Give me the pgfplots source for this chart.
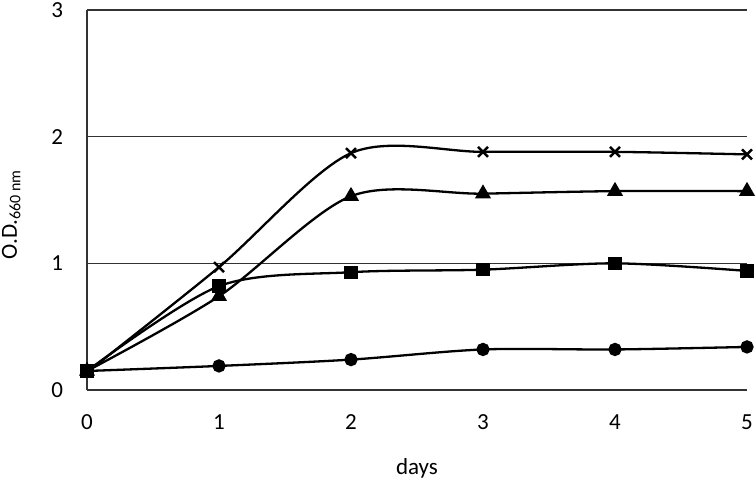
\documentclass[border=0pt]{standalone}
\usepackage{pgfplots}
\pgfplotsset{compat=1.18}
\usepackage{fontspec}
\setmainfont{Carlito}
\begin{document}
\fontsize{23}{27}\selectfont
\begin{tikzpicture}
\begin{axis}[
 at={(0,0)}, anchor=south west,
 scale only axis, width=660pt, height=380pt,
 xmin=0, xmax=5, ymin=0, ymax=3,
 axis lines=left, axis line style={-, black!80, line width=1.2pt},
 ymajorgrids, grid style={black!80, line width=1.2pt},
 xtick={0,1,2,3,4,5}, ytick={0,1,2,3},
 major tick length=0pt,
 tick label style={font=\fontsize{23}{27}\selectfont},
 /pgf/number format/assume math mode=true,
 xticklabel style={yshift=-17pt},
 yticklabel style={xshift=-16pt},
 clip=false,
 every axis plot/.append style={black, line width=2.3pt, smooth, tension=0.5},
]
\addplot[mark=*, mark size=5.5pt, mark options={solid}] coordinates {(0,0.15)(1,0.19)(2,0.24)(3,0.32)(4,0.32)(5,0.34)};
\addplot[mark=triangle*, mark size=7pt, mark options={solid}] coordinates {(0,0.15)(1,0.74)(2,1.53)(3,1.55)(4,1.57)(5,1.57)};
\addplot[mark=x, mark size=7pt, mark options={solid, line width=2.6pt}] coordinates {(0,0.14)(1,0.97)(2,1.87)(3,1.88)(4,1.88)(5,1.86)};
\addplot[mark=square*, mark size=5.5pt, mark options={solid}] coordinates {(0,0.15)(1,0.82)(2,0.93)(3,0.95)(4,1.00)(5,0.94)};
\end{axis}
\node[rotate=90, anchor=base] at (-70pt,175pt) {O.D.\raisebox{-3.5pt}{\fontsize{16}{18}\selectfont 660 nm}};
\node at (330pt,-78pt) {days};
\pgfresetboundingbox
\path (-87pt,-92pt) rectangle (669pt,390pt);
\end{tikzpicture}
\end{document}
